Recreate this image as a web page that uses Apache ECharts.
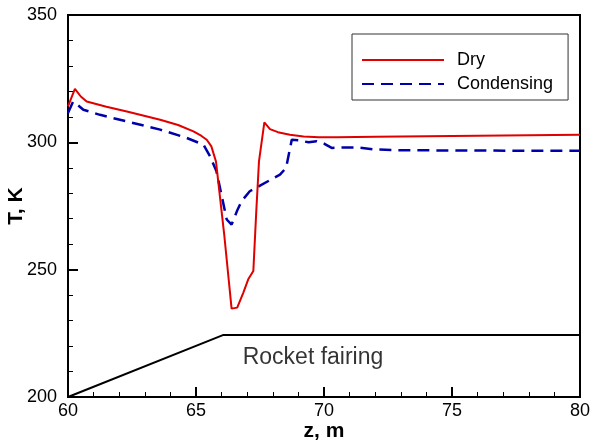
<!DOCTYPE html>
<html><head><meta charset="utf-8">
<script src="https://cdn.jsdelivr.net/npm/echarts@6/dist/echarts.min.js"></script>
<style>html,body{margin:0;padding:0;background:#fff}#c{width:593px;height:443px}</style>
</head><body><div id="c"></div>
<script>
const dryZ = [60, 60.27, 60.5, 60.73, 61.5, 62.3, 63.6, 64.3, 64.9, 65.2, 65.42, 65.6, 65.78, 66.1, 66.39, 66.61, 66.85, 67.04, 67.24, 67.35, 67.46, 67.67, 67.89, 68.2, 68.67, 69.2, 69.8, 70.5, 72, 75, 78, 80];
const dryT = [314.1, 321, 318, 316, 314, 312.1, 308.9, 306.8, 304.3, 302.6, 301, 298.4, 292.5, 264, 234.7, 235.1, 241, 246.2, 249.5, 272, 292.5, 307.8, 305.2, 304, 303, 302.3, 302, 302, 302.2, 302.5, 302.8, 303];
const condZ = [60, 60.2, 60.4, 60.6, 61.25, 62.3, 63.6, 64.64, 65.29, 65.55, 65.8, 66.2, 66.39, 66.6, 66.78, 67.1, 67.5, 68.28, 68.52, 68.74, 69.0, 69.4, 69.71, 70.0, 70.3, 70.8, 71.3, 72.0, 73, 75, 78, 80];
const condT = [311.5, 316, 314.5, 312.8, 310.8, 308.2, 305, 301.7, 299.1, 294.5, 288.6, 269.7, 267.7, 273, 276.9, 280.8, 283, 287.3, 290, 301, 300.8, 300, 300.4, 299.5, 297.8, 298, 298, 297.2, 296.9, 296.8, 296.7, 296.7];
const fairZ = [60, 66.05, 80];
const fairT = [200, 224.3, 224.3];
const fairLabel = {z: 69.57, t: 215.5, text: 'Rocket fairing'};
const seriesNames = ['Dry', 'Condensing'];

const zip = (a, b) => a.map((v, i) => [v, b[i]]);
const font = 'Arial, "Liberation Sans", sans-serif';
const chart = echarts.init(document.getElementById('c'));
chart.setOption({
  animation: false,
  backgroundColor: '#fff',
  grid: {left: 68, right: 13, top: 15, bottom: 46, outerBoundsMode: 'none', containLabel: false,
         show: true, borderColor: '#000', borderWidth: 2, backgroundColor: 'transparent'},
  legend: {
    data: seriesNames, orient: 'vertical', left: 352, top: 34,
    padding: [17, 15, 7, 9], itemGap: 6, itemWidth: 82, itemHeight: 14,
    borderColor: '#333', borderWidth: 1, backgroundColor: '#fff',
    itemStyle: {opacity: 0}, lineStyle: {inactiveWidth: 2},
    textStyle: {fontSize: 18, color: '#000', fontFamily: font, padding: [0, 0, 0, 8]}
  },
  xAxis: {
    type: 'value', min: 60, max: 80, interval: 5,
    name: 'z, m', nameLocation: 'middle', nameGap: 24, nameMoveOverlap: false,
    nameTextStyle: {fontSize: 21, fontWeight: 'bold', color: '#000', fontFamily: font},
    axisLine: {lineStyle: {color: '#000', width: 2}},
    axisTick: {inside: true, length: 10, lineStyle: {color: '#000', width: 2}},
    minorTick: {show: true, splitNumber: 5, length: 5, lineStyle: {color: '#000', width: 1}},
    splitLine: {show: false},
    axisLabel: {fontSize: 18, color: '#000', fontFamily: font, margin: 5}
  },
  yAxis: {
    type: 'value', min: 200, max: 350, interval: 50,
    name: 'T, K', nameLocation: 'middle', nameGap: 41, nameMoveOverlap: false,
    nameTextStyle: {fontSize: 21, fontWeight: 'bold', color: '#000', fontFamily: font},
    axisLine: {lineStyle: {color: '#000', width: 2}},
    axisTick: {inside: true, length: 10, lineStyle: {color: '#000', width: 2}},
    minorTick: {show: true, splitNumber: 5, length: 5, lineStyle: {color: '#000', width: 1}},
    splitLine: {show: false},
    axisLabel: {fontSize: 18, color: '#000', fontFamily: font, margin: 11}
  },
  series: [
    {name: 'Dry', type: 'line', data: zip(dryZ, dryT), showSymbol: false, symbol: 'none',
     lineStyle: {color: '#e00000', width: 2}, itemStyle: {color: '#e00000'}, z: 3},
    {name: 'Condensing', type: 'line', data: zip(condZ, condT), showSymbol: false, symbol: 'none',
     lineStyle: {color: '#0000aa', width: 2.5, type: [12, 7]}, itemStyle: {color: '#0000aa'}, z: 2},
    {name: 'fairing', type: 'line', data: zip(fairZ, fairT), showSymbol: false, symbol: 'none',
     lineStyle: {color: '#000', width: 2}, z: 1},
    {name: 'fairingLabel', type: 'scatter', data: [[fairLabel.z, fairLabel.t]], symbolSize: 0,
     label: {show: true, position: 'inside', formatter: fairLabel.text, fontSize: 23, color: '#000', fontFamily: font}}
  ]
});
</script></body></html>
